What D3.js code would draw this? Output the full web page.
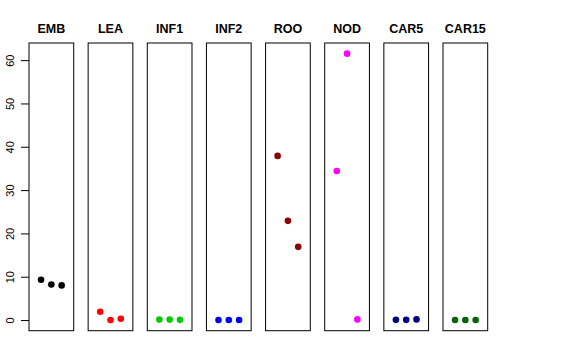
<!DOCTYPE html>
<html>
<head>
<meta charset="utf-8">
<script src="https://cdn.jsdelivr.net/npm/d3@7"></script>
<style>
  body { margin: 0; background: #fff; }
  svg { display: block; font-family: "Liberation Sans", Arial, Helvetica, sans-serif; }
</style>
</head>
<body>
<svg id="chart" width="576" height="360"></svg>
<script>
// ---- data ----
const categories = ["EMB", "LEA", "INF1", "INF2", "ROO", "NOD", "CAR5", "CAR15"];
const colors = ["#000000", "#FF0000", "#00CD00", "#0000FF", "#8B0000", "#FF00FF", "#000080", "#006400"];
const EMB   = [9.3, 8.2, 8.0];
const LEA   = [1.9, 0.0, 0.3];
const INF1  = [0.1, 0.1, 0.05];
const INF2  = [0.0, 0.0, 0.0];
const ROO   = [37.9, 22.9, 16.9];
const NOD   = [34.4, 61.5, 0.15];
const CAR5  = [0.05, 0.05, 0.15];
const CAR15 = [0.0, 0.0, 0.0];
const seriesValues = [EMB, LEA, INF1, INF2, ROO, NOD, CAR5, CAR15];
const yTicks = [0, 10, 20, 30, 40, 50, 60];

// ---- layout ----
const svg = d3.select("#chart");
const plotTop = 43, plotBottom = 330.7;

const panel = d3.scaleBand()
  .domain(categories)
  .range([29, 487.7])
  .paddingInner(0.244)
  .paddingOuter(0);

const y = d3.scaleLinear()
  .domain([-2.46, 63.96])
  .range([plotBottom, plotTop]);

const xIn = d3.scaleLinear()
  .domain([-0.17, 4.17])
  .range([0, panel.bandwidth()]);

categories.forEach((cat, i) => {
  const g = svg.append("g").attr("transform", `translate(${panel(cat)},0)`);
  g.append("rect")
    .attr("x", 0).attr("y", plotTop)
    .attr("width", panel.bandwidth())
    .attr("height", plotBottom - plotTop)
    .attr("fill", "none")
    .attr("stroke", "#000")
    .attr("stroke-width", 1);
  g.append("text")
    .attr("x", panel.bandwidth() / 2)
    .attr("y", 33)
    .attr("text-anchor", "middle")
    .attr("font-weight", "bold")
    .attr("font-size", 12.5)
    .text(cat);
  g.selectAll("circle")
    .data(seriesValues[i])
    .join("circle")
    .attr("cx", (d, j) => xIn(j + 1))
    .attr("cy", d => y(d))
    .attr("r", 3.3)
    .attr("fill", colors[i]);
});

// y axis on first panel
const axisG = svg.append("g").attr("transform", `translate(${panel(categories[0])},0)`);
const axis = d3.axisLeft(y).tickValues(yTicks).tickSize(8).tickFormat(d3.format("d"));
axisG.call(axis);
axisG.select(".domain").remove();
axisG.selectAll(".tick line").attr("stroke", "#000");
axisG.selectAll(".tick text")
  .attr("font-size", 11)
  .attr("font-family", "Liberation Sans, Arial, Helvetica, sans-serif")
  .attr("fill", "#000")
  .attr("text-anchor", "middle")
  .attr("x", 0).attr("dy", 0)
  .attr("transform", "translate(-15,0) rotate(-90)");
</script>
</body>
</html>
